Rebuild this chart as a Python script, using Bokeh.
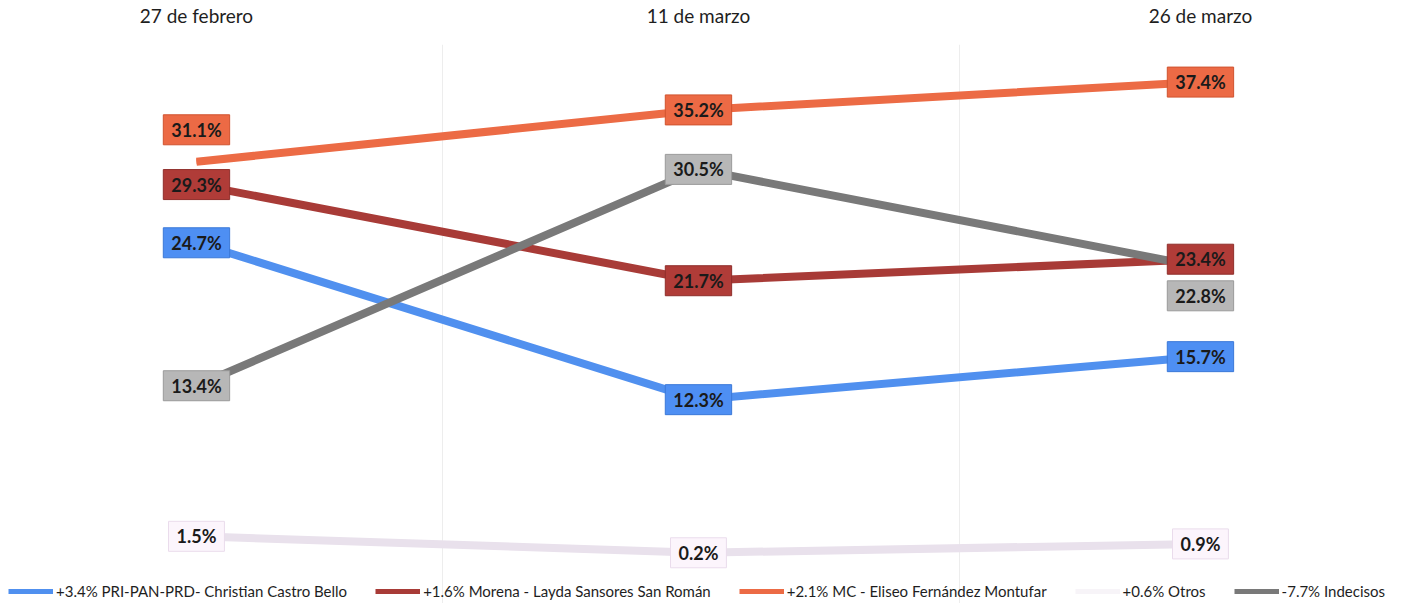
from bokeh.plotting import figure
from bokeh.models import FixedTicker, ColumnDataSource, Legend, LegendItem
from bokeh.core.properties import value
from bokeh.embed import file_html
from bokeh.resources import INLINE

fechas = ["27 de febrero", "11 de marzo", "26 de marzo"]
pri = [24.7, 12.3, 15.7]
morena = [29.3, 21.7, 23.4]
mc = [31.1, 35.2, 37.4]
otros = [1.5, 0.2, 0.9]
indecisos = [13.4, 30.5, 22.8]

leyendas = [
    "+3.4% PRI-PAN-PRD- Christian Castro Bello",
    "+1.6% Morena - Layda Sansores San Román",
    "+2.1% MC - Eliseo Fernández Montufar",
    "+0.6% Otros",
    "-7.7% Indecisos",
]

series = [pri, morena, mc, otros, indecisos]
line_colors = ["#5090ef", "#a83b37", "#ec6b45", "#e9e1ec", "#797979"]
legend_colors = line_colors[:3] + ["#f7f4f8"] + line_colors[4:]
label_bg = ["#4e8ff3", "#b03c38", "#ec6a45", "#fcf5fc", "#b7b7b7"]
label_border = ["#3b78d8", "#8f2e2b", "#d0532f", "#eadcec", "#9a9a9a"]
# per-point vertical label offsets (screen px)
offsets = [[0, 0, 0], [0, 0, 0], [-32, 0, 0], [0, 0, 0], [0, 0, 29]]

xs = list(range(len(fechas)))

p = figure(width=1387, height=603, output_backend="svg", toolbar_location=None,
           x_range=(-0.3904, 2.3726), y_range=(-3.81, 40.37),
           x_axis_location="above", y_axis_location=None,
           min_border_left=0, min_border_right=0, min_border_top=32, min_border_bottom=0)
p.outline_line_color = None
p.background_fill_color = "white"

ax = p.xaxis[0]
ax.ticker = FixedTicker(ticks=xs)
ax.major_label_overrides = {i: f for i, f in enumerate(fechas)}
ax.axis_line_color = None
ax.major_tick_line_color = None
ax.minor_tick_line_color = None
ax.major_label_standoff = 12
ax.major_label_text_font = "Lato"
ax.major_label_text_font_size = "19px"
ax.major_label_text_color = "#1e1e1e"

p.xgrid.ticker = FixedTicker(ticks=[0.49, 1.52])
p.xgrid.grid_line_color = "#ededed"
p.ygrid.grid_line_color = None

# thinner legend proxies, drawn underneath the real (thicker) lines
proxies = []
for i in range(len(series)):
    proxies.append(p.line(xs, series[i], line_color=legend_colors[i],
                          line_width=5, line_cap="butt"))

for i in range(len(series)):
    p.line(xs, series[i], line_color=line_colors[i], line_width=8,
           line_cap="butt", line_join="round")

for i in range(len(series)):
    src = ColumnDataSource(dict(x=xs, y=series[i], t=[f"{v:.1f}%" for v in series[i]], dy=offsets[i]))
    p.text("x", "y", text="t", source=src, y_offset="dy",
           text_align="center", text_baseline="middle",
           text_font=value("Lato"), text_font_style="bold", text_font_size="18px",
           text_color="#1a1a1a",
           background_fill_color=label_bg[i], border_line_color=label_border[i],
           border_line_width=1, padding=(8, 4))

items = [LegendItem(label=leyendas[i], renderers=[proxies[i]]) for i in range(5)]
legend = Legend(items=items, orientation="horizontal", location=(8, 3),
                glyph_width=45, glyph_height=14, label_standoff=3, spacing=28,
                label_text_font="Lato", label_text_font_size="15px", label_text_color="#1e1e1e",
                border_line_color=None, background_fill_alpha=0, margin=0, padding=0)
p.add_layout(legend)

open("out.html", "w").write(file_html(p, INLINE))
